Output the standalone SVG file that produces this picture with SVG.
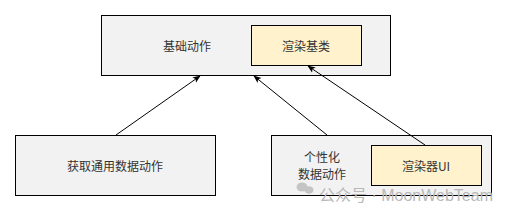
<svg xmlns="http://www.w3.org/2000/svg" width="507" height="211" viewBox="0 0 507 211">
<style>
.box{fill:#f2f2f2;stroke:#000;stroke-width:1}
.y{fill:#fff2cc;stroke:#000;stroke-width:1}
text{font-family:"Noto Sans CJK SC","Liberation Sans",sans-serif;font-size:12px;fill:#333;text-anchor:middle;dominant-baseline:central}
.c{stroke:#000;stroke-width:1;fill:none;marker-end:url(#a)}
.wm{font-family:"Liberation Sans","Noto Sans CJK SC",sans-serif;font-size:16px;fill:#b8b8b8;text-anchor:start}
</style>
<defs>
<marker id="a" viewBox="0 0 10 10" refX="9" refY="5" markerWidth="8" markerHeight="8" orient="auto" markerUnits="userSpaceOnUse">
<path d="M0,1 L10,5 L0,9 L2.5,5 Z" fill="#000"/>
</marker>
</defs>
<g id="base">
<rect class="box" x="101.5" y="15.5" width="289" height="60"/>
<text x="187" y="45">基础动作</text>
</g>
<g id="render-base">
<rect class="y" x="251.5" y="25.5" width="110" height="40"/>
<text x="306" y="45">渲染基类</text>
</g>
<g id="common">
<rect class="box" x="15.5" y="135.5" width="200" height="60"/>
<text x="115" y="165">获取通用数据动作</text>
</g>
<g id="custom">
<rect class="box" x="271.5" y="135.5" width="220" height="60"/>
<text x="322" y="156">个性化</text>
<text x="322" y="173">数据动作</text>
</g>
<g id="renderer-ui">
<rect class="y" x="371.5" y="145.5" width="110" height="40"/>
<text x="426" y="165">渲染器UI</text>
</g>
<g id="connectors">
<line class="c" x1="116" y1="135" x2="200" y2="76"/>
<line class="c" x1="327" y1="135" x2="254" y2="76"/>
<line class="c" x1="425" y1="145" x2="308" y2="66"/>
</g>
<g id="watermark">
<ellipse cx="302" cy="187" rx="5.5" ry="4.5" fill="#c4c4c4"/>
<ellipse cx="309" cy="190" rx="4.5" ry="3.8" fill="#c4c4c4"/>
<text class="wm" x="319" y="195" dominant-baseline="auto">公众号 · MoonWebTeam</text>
</g>
</svg>
